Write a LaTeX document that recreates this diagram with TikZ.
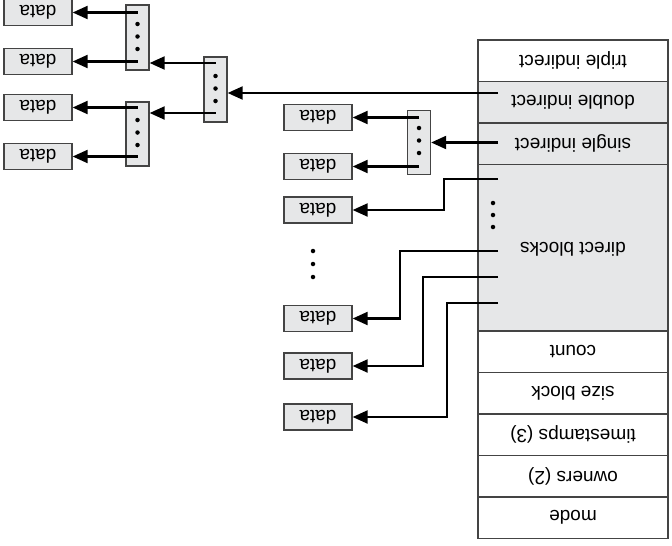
\documentclass[tikz,border=0pt]{standalone}
\usepackage{fontspec}
\setmainfont{Liberation Sans}
\usepackage{graphicx}
\usetikzlibrary{arrows.meta,positioning}
\definecolor{grisclaro}{HTML}{E6E7E8}
\definecolor{borde}{HTML}{444444}
\newcommand{\volteado}[1]{\rotatebox[origin=c]{180}{#1}}

\begin{document}
\begin{tikzpicture}[
  x=1pt, y=-1pt, font=\fontsize{19}{22}\selectfont,
  fila/.style={draw=borde, line width=1.3pt, minimum width=190pt,
               minimum height=41.5pt, inner sep=0pt},
  filagris/.style={fila, fill=grisclaro},
  dato/.style={draw=borde, fill=grisclaro, line width=1.3pt, minimum width=68pt,
               minimum height=26pt, inner sep=0pt},
  bloque/.style={draw=borde, fill=grisclaro, line width=1.3pt, minimum width=23pt,
                 minimum height=64pt, inner sep=0pt},
  punto/.style={circle, fill=black, inner sep=0pt, minimum size=4.5pt},
  flecha/.style={-{Triangle[length=15pt, width=13pt]}, line width=2.1pt, black}
]
  \useasboundingbox (0,0) rectangle (672,546);

  % inode
  \node[fila]     (triple)  at (573,60.75)  {\volteado{triple indirect}};
  \node[filagris] (doble)   at (573,102.25) {\volteado{double indirect}};
  \node[filagris] (simple)  at (573,143.75) {\volteado{single indirect}};
  \node[filagris, minimum height=166.5pt] (directos) at (573,247.75) {};
  \node (txtdir) at (573,249) {\volteado{direct blocks}};
  \node[fila]     (count)   at (573,351.75) {\volteado{count}};
  \node[fila]     (size)    at (573,393.25) {\volteado{size block}};
  \node[fila]     (tiempos) at (573,434.75) {\volteado{timestamps (3)}};
  \node[fila]     (duenos)  at (573,476.25) {\volteado{owners (2)}};
  \node[fila]     (modo)    at (573,517.75) {\volteado{mode}};
  \foreach \y in {203,215,227} \node[punto] at (493,\y) {};

  % bloques de datos directos
  \node[dato] (d1) at (318,210)   {\volteado{data}};
  \node[dato] (d2) at (318,318.5) {\volteado{data}};
  \node[dato] (d3) at (318,366)   {\volteado{data}};
  \node[dato] (d4) at (318,417)   {\volteado{data}};
  \foreach \y in {251,264,277} \node[punto] at (313,\y) {};

  \coordinate (pd1) at (498,179);
  \coordinate (pd2) at (498,251);
  \coordinate (pd3) at (498,277);
  \coordinate (pd4) at (498,303);
  \draw[flecha] (pd1) -- ++(-54,0) |- (d1.east);
  \draw[flecha] (pd2) -- ++(-98,0) |- (d2.east);
  \draw[flecha] (pd3) -- ++(-75,0) |- (d3.east);
  \draw[flecha] (pd4) -- ++(-51,0) |- (d4.east);

  % indirecto simple
  \node[bloque] (bsi) at (419,142.5) {};
  \foreach \y in {128,140.5,153} \node[punto] at (419,\y) {};
  \node[dato] (s1) at (318,117.5) {\volteado{data}};
  \node[dato] (s2) at (318,166.5) {\volteado{data}};
  \coordinate (psi) at (498,142.5);
  \coordinate (bsi1) at (419,117.5);
  \coordinate (bsi2) at (419,166.5);
  \draw[flecha] (psi) -- (bsi.east);
  \draw[flecha] (bsi1) -- (s1.east);
  \draw[flecha] (bsi2) -- (s2.east);

  % indirecto doble
  \node[bloque, minimum height=65pt] (bdi) at (215.5,89.5) {};
  \foreach \y in {76,88.5,101} \node[punto] at (215.5,\y) {};
  \node[bloque, minimum height=65pt] (bn1) at (137.5,37.5)  {};
  \node[bloque] (bn2) at (137.5,134) {};
  \foreach \y in {24,36.5,49}  \node[punto] at (137.5,\y) {};
  \foreach \y in {120,132.5,145} \node[punto] at (137.5,\y) {};
  \node[dato] (n1) at (38,12.5)  {\volteado{data}};
  \node[dato] (n2) at (38,61.5)  {\volteado{data}};
  \node[dato] (n3) at (38,107.5) {\volteado{data}};
  \node[dato] (n4) at (38,156.5) {\volteado{data}};

  \coordinate (pdi) at (498,93);
  \coordinate (bdi1) at (215.5,63);
  \coordinate (bdi2) at (215.5,113);
  \coordinate (bn1a) at (137.5,12.5);
  \coordinate (bn1b) at (137.5,61.5);
  \coordinate (bn2a) at (137.5,107.5);
  \coordinate (bn2b) at (137.5,156.5);
  \draw[flecha] (pdi) -- (pdi -| bdi.east);
  \draw[flecha] (bdi1) -- (bdi1 -| bn1.east);
  \draw[flecha] (bdi2) -- (bdi2 -| bn2.east);
  \draw[flecha] (bn1a) -- (n1.east);
  \draw[flecha] (bn1b) -- (n2.east);
  \draw[flecha] (bn2a) -- (n3.east);
  \draw[flecha] (bn2b) -- (n4.east);
\end{tikzpicture}
\end{document}
